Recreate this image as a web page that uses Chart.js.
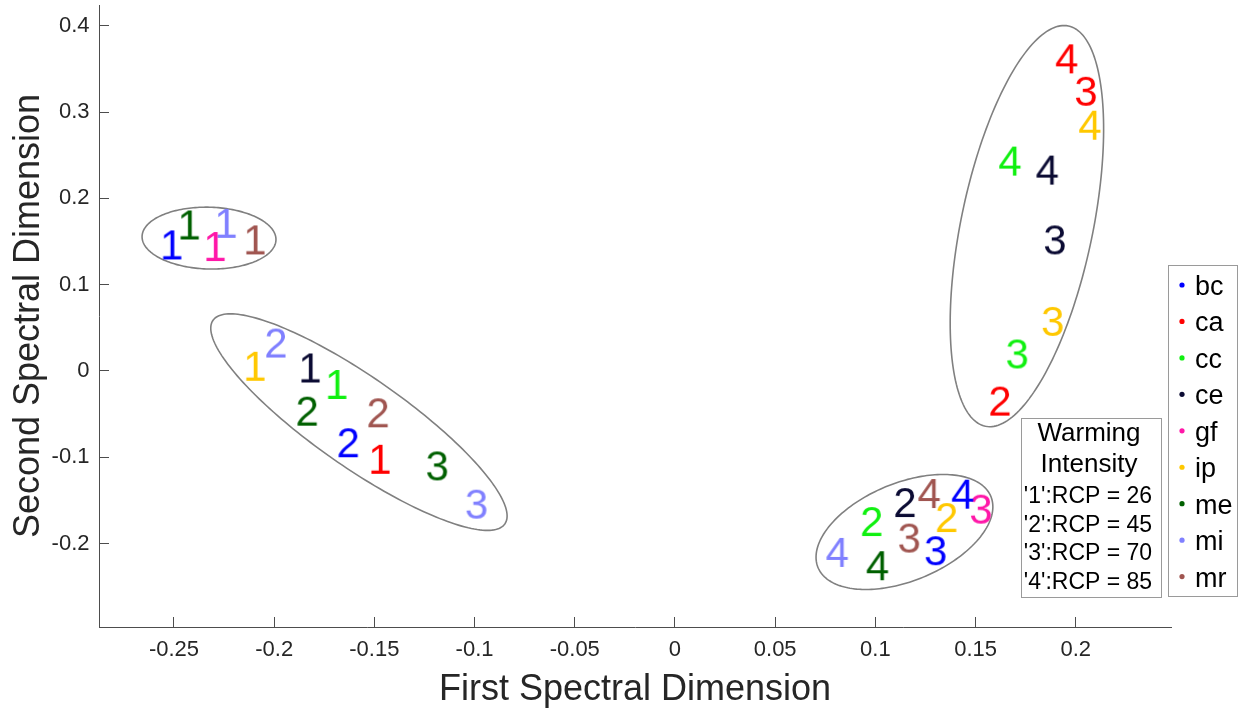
<!DOCTYPE html>
<html>
<head>
<meta charset="utf-8">
<script src="https://cdn.jsdelivr.net/npm/chart.js@4.4.1/dist/chart.umd.min.js"></script>
<style>
  html, body { margin: 0; padding: 0; background: #fff; }
</style>
</head>
<body>
<canvas id="chart" width="1242" height="712"></canvas>
<script>
const models = ["bc", "ca", "cc", "ce", "gf", "ip", "me", "mi", "mr"];
const modelColors = ["#0000ff", "#ff0000", "#10f010", "#0b0b33", "#ff17a8", "#ffc800", "#006000", "#8080ff", "#a05550"];

// [warming scenario, first dim, second dim] for each model
const bc = [[1, -0.2511, 0.1466], [2, -0.1630, -0.0826], [3, 0.1301, -0.2077], [4, 0.1436, -0.1422]];
const ca = [[1, -0.1472, -0.1018], [2, 0.1622, -0.0344], [3, 0.2051, 0.3246], [4, 0.1955, 0.3622]];
const cc = [[1, -0.1688, -0.0151], [2, 0.0982, -0.1739], [3, 0.1708, 0.0202], [4, 0.1672, 0.2437]];
const ce = [[1, -0.1821, 0.0040], [2, 0.1148, -0.1519], [3, 0.1896, 0.1524], [4, 0.1858, 0.2333]];
const gf = [[1, -0.2295, 0.1447], [3, 0.1527, -0.1596]];
const ip = [[1, -0.2096, 0.0060], [2, 0.1356, -0.1693], [3, 0.1885, 0.0580], [4, 0.2071, 0.2853]];
const me = [[1, -0.2424, 0.1697], [2, -0.1835, -0.0460], [3, -0.1186, -0.1095], [4, 0.1011, -0.2251]];
const mi = [[1, -0.2240, 0.1716], [2, -0.1991, 0.0329], [3, -0.0990, -0.1538], [4, 0.0810, -0.2097]];
const mr = [[1, -0.2096, 0.1524], [2, -0.1481, -0.0479], [3, 0.1169, -0.1931], [4, 0.1269, -0.1415]];
const modelPoints = [bc, ca, cc, ce, gf, ip, me, mi, mr];

const rcpTitle = ["Warming", "Intensity"];
const rcpLabels = ["'1':RCP = 26", "'2':RCP = 45", "'3':RCP = 70", "'4':RCP = 85"];

const xTickValues = [-0.25, -0.2, -0.15, -0.1, -0.05, 0, 0.05, 0.1, 0.15, 0.2];
const yTickValues = [-0.2, -0.1, 0, 0.1, 0.2, 0.3, 0.4];

// cluster outlines: centre plus two conjugate semi-axes, in data units
const clusterCentres = [[-0.2325, 0.1539], [-0.1577, -0.0593], [0.1756, 0.1678], [0.1145, -0.1866]];
const clusterAxisA = [[0.0334, -0.0020], [0.0728, -0.1180], [0.0207, 0.2319], [0.0431, 0.0413]];
const clusterAxisB = [[-0.0004, -0.0358], [-0.0129, -0.0426], [0.0322, -0.0154], [0.0094, -0.0523]];

const FONT = '"Liberation Sans", Arial, sans-serif';
const digitCache = {};

function digitImage(digit, color) {
    const key = digit + color;
    if (!digitCache[key]) {
        const c = document.createElement("canvas");
        c.width = 34;
        c.height = 46;
        const g = c.getContext("2d");
        g.font = "42px " + FONT;
        g.fillStyle = color;
        g.textAlign = "center";
        g.textBaseline = "alphabetic";
        g.fillText(String(digit), 17, 23 + 15);
        digitCache[key] = c;
    }
    return digitCache[key];
}

const ellipsePlugin = {
    id: "clusterEllipses",
    beforeDatasetsDraw(chart) {
        const { ctx, scales: { x, y } } = chart;
        ctx.save();
        ctx.strokeStyle = "#808080";
        ctx.lineWidth = 1.6;
        clusterCentres.forEach((c, i) => {
            const a = clusterAxisA[i];
            const b = clusterAxisB[i];
            ctx.beginPath();
            for (let k = 0; k <= 200; k++) {
                const t = (k / 200) * Math.PI * 2;
                const px = x.getPixelForValue(c[0] + a[0] * Math.cos(t) + b[0] * Math.sin(t));
                const py = y.getPixelForValue(c[1] + a[1] * Math.cos(t) + b[1] * Math.sin(t));
                if (k === 0) ctx.moveTo(px, py);
                else ctx.lineTo(px, py);
            }
            ctx.closePath();
            ctx.stroke();
        });
        ctx.restore();
    }
};

const boxesPlugin = {
    id: "legendBoxes",
    afterDraw(chart) {
        const ctx = chart.ctx;
        ctx.save();
        ctx.lineWidth = 1;
        ctx.strokeStyle = "#9a9a9a";

        // model legend
        ctx.fillStyle = "#fff";
        ctx.fillRect(1168, 265, 69, 331);
        ctx.strokeRect(1168.5, 265.5, 69, 331);
        ctx.font = "27px " + FONT;
        ctx.textAlign = "left";
        ctx.textBaseline = "alphabetic";
        models.forEach((name, i) => {
            const base = 295 + i * 36.45;
            ctx.fillStyle = modelColors[i];
            ctx.beginPath();
            ctx.arc(1182, base - 10, 2.6, 0, Math.PI * 2);
            ctx.fill();
            ctx.fillStyle = "#000";
            ctx.fillText(name, 1195, base);
        });

        // warming intensity key
        ctx.fillStyle = "#fff";
        ctx.fillRect(1021, 418, 140, 179);
        ctx.strokeRect(1021.5, 418.5, 140, 179);
        ctx.fillStyle = "#000";
        ctx.textAlign = "center";
        ctx.font = "26px " + FONT;
        ctx.fillText(rcpTitle[0], 1089, 440.5);
        ctx.fillText(rcpTitle[1], 1089, 471.5);
        ctx.font = "23px " + FONT;
        rcpLabels.forEach((txt, i) => {
            ctx.fillText(txt, 1088, 503.3 + i * 28.4);
        });
        ctx.restore();
    }
};

const tickText = (v) => String(Math.round(v * 100) / 100);

new Chart(document.getElementById("chart"), {
    type: "scatter",
    data: {
        datasets: models.map((name, i) => ({
            label: name,
            data: modelPoints[i].map((p) => ({ x: p[1], y: p[2], rcp: p[0] })),
            pointStyle: (ctx) => digitImage(ctx.raw ? ctx.raw.rcp : 1, modelColors[i]),
            borderColor: modelColors[i],
            backgroundColor: modelColors[i],
            showLine: false
        }))
    },
    options: {
        responsive: false,
        animation: false,
        layout: { padding: { top: 3, right: 71, left: 0, bottom: 0 } },
        plugins: {
            legend: { display: false },
            tooltip: { enabled: false }
        },
        scales: {
            x: {
                type: "linear",
                min: -0.2874,
                max: 0.2475,
                afterBuildTicks: (axis) => { axis.ticks = xTickValues.map((v) => ({ value: v })); },
                afterFit: (scale) => {
                    scale.height = 85;
                    scale.paddingLeft = 0;
                    scale.paddingRight = 0;
                },
                border: { display: true, color: "#4d4d4d", width: 1 },
                grid: { drawOnChartArea: false, drawTicks: true, tickLength: -10, color: "#4d4d4d" },
                ticks: {
                    callback: tickText,
                    color: "#262626",
                    font: { family: FONT, size: 22 },
                    padding: 20,
                    maxRotation: 0,
                    autoSkip: false
                },
                title: {
                    display: true,
                    text: "First Spectral Dimension",
                    color: "#262626",
                    font: { family: FONT, size: 36, lineHeight: 1 },
                    padding: { top: 0, bottom: 4 }
                }
            },
            y: {
                type: "linear",
                min: -0.2967,
                max: 0.424,
                afterBuildTicks: (axis) => { axis.ticks = yTickValues.map((v) => ({ value: v })); },
                afterFit: (scale) => {
                    scale.width = 99;
                    scale.paddingTop = 0;
                    scale.paddingBottom = 0;
                },
                border: { display: true, color: "#4d4d4d", width: 1 },
                grid: { drawOnChartArea: false, drawTicks: true, tickLength: -10, color: "#4d4d4d" },
                ticks: {
                    callback: tickText,
                    color: "#262626",
                    font: { family: FONT, size: 22 },
                    padding: 19.5,
                    autoSkip: false
                },
                title: {
                    display: true,
                    text: "Second Spectral Dimension",
                    color: "#262626",
                    font: { family: FONT, size: 36, lineHeight: 1 },
                    padding: { top: 11, bottom: 0 }
                }
            }
        }
    },
    plugins: [ellipsePlugin, boxesPlugin]
});
</script>
</body>
</html>
